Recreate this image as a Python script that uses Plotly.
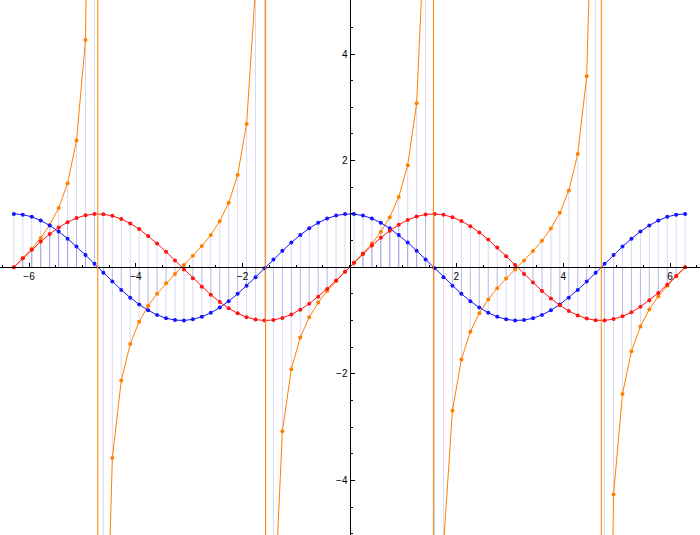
import plotly.graph_objects as go

# sample positions (radians)
x_vals = [-6.2832, -6.1156, -5.9481, -5.7805, -5.6130, -5.4454, -5.2779, -5.1103, -4.9428, -4.7752,
          -4.6077, -4.4401, -4.2726, -4.1050, -3.9375, -3.7699, -3.6024, -3.4348, -3.2673, -3.0997,
          -2.9322, -2.7646, -2.5970, -2.4295, -2.2619, -2.0944, -1.9268, -1.7593, -1.5917, -1.4242,
          -1.2566, -1.0891, -0.9215, -0.7540, -0.5864, -0.4189, -0.2513, -0.0838,
          0.0838, 0.2513, 0.4189, 0.5864, 0.7540, 0.9215, 1.0891, 1.2566, 1.4242, 1.5917,
          1.7593, 1.9268, 2.0944, 2.2619, 2.4295, 2.5970, 2.7646, 2.9322, 3.0997, 3.2673,
          3.4348, 3.6024, 3.7699, 3.9375, 4.1050, 4.2726, 4.4401, 4.6077, 4.7752, 4.9428,
          5.1103, 5.2779, 5.4454, 5.6130, 5.7805, 5.9481, 6.1156, 6.2832]

sin_vals = [0.0, 0.1668, 0.3289, 0.4818, 0.6211, 0.7431, 0.8443, 0.9219, 0.9736, 0.9980,
            0.9945, 0.9632, 0.9048, 0.8211, 0.7145, 0.5878, 0.4446, 0.2890, 0.1253, -0.0419,
            -0.2079, -0.3681, -0.5180, -0.6534, -0.7705, -0.8660, -0.9373, -0.9823, -0.9998, -0.9893,
            -0.9511, -0.8862, -0.7965, -0.6845, -0.5534, -0.4067, -0.2487, -0.0837,
            0.0837, 0.2487, 0.4067, 0.5534, 0.6845, 0.7965, 0.8862, 0.9511, 0.9893, 0.9998,
            0.9823, 0.9373, 0.8660, 0.7705, 0.6534, 0.5180, 0.3681, 0.2079, 0.0419, -0.1253,
            -0.2890, -0.4446, -0.5878, -0.7145, -0.8211, -0.9048, -0.9632, -0.9945, -0.9980, -0.9736,
            -0.9219, -0.8443, -0.7431, -0.6211, -0.4818, -0.3289, -0.1668, 0.0]

cos_vals = [1.0, 0.9860, 0.9444, 0.8763, 0.7837, 0.6691, 0.5358, 0.3875, 0.2284, 0.0628,
            -0.1045, -0.2689, -0.4258, -0.5707, -0.6997, -0.8090, -0.8957, -0.9573, -0.9921, -0.9991,
            -0.9781, -0.9298, -0.8554, -0.7570, -0.6374, -0.5000, -0.3486, -0.1874, -0.0209, 0.1461,
            0.3090, 0.4633, 0.6046, 0.7290, 0.8329, 0.9135, 0.9686, 0.9965,
            0.9965, 0.9686, 0.9135, 0.8329, 0.7290, 0.6046, 0.4633, 0.3090, 0.1461, -0.0209,
            -0.1874, -0.3486, -0.5000, -0.6374, -0.7570, -0.8554, -0.9298, -0.9781, -0.9991, -0.9921,
            -0.9573, -0.8957, -0.8090, -0.6997, -0.5707, -0.4258, -0.2689, -0.1045, 0.0628, 0.2284,
            0.3875, 0.5358, 0.6691, 0.7837, 0.8763, 0.9444, 0.9860, 1.0]

tan_vals = [0.0, 0.1691, 0.3482, 0.5498, 0.7926, 1.1106, 1.5757, 2.3789, 4.2635, 15.895,
            -9.5144, -3.5816, -2.1251, -1.4388, -1.0212, -0.7265, -0.4964, -0.3019, -0.1263, 0.0419,
            0.2126, 0.3959, 0.6056, 0.8632, 1.2088, 1.7321, 2.6889, 5.2422, 47.74, -6.7720,
            -3.0777, -1.9128, -1.3175, -0.9391, -0.6644, -0.4452, -0.2568, -0.0840,
            0.0840, 0.2568, 0.4452, 0.6644, 0.9391, 1.3175, 1.9128, 3.0777, 6.7720, -47.74,
            -5.2422, -2.6889, -1.7321, -1.2088, -0.8632, -0.6056, -0.3959, -0.2126, -0.0419, 0.1263,
            0.3019, 0.4964, 0.7265, 1.0212, 1.4388, 2.1251, 3.5816, 9.5144, -15.895, -4.2635,
            -2.3789, -1.5757, -1.1106, -0.7926, -0.5498, -0.3482, -0.1691, 0.0]

asymptotes = [-4.7124, -1.5708, 1.5708, 4.7124]
x_ticks = [-6, -4, -2, 2, 4, 6]
y_ticks = [-4, -2, 2, 4]

X_RANGE = [-6.543, 6.561]
Y_RANGE = [-5.024, 5.013]

BLUE = "rgb(20,20,255)"
RED = "rgb(255,20,20)"
ORANGE = "rgb(255,128,0)"
STEM = "rgba(60,60,190,0.2)"


def stems(xs, ys):
    sx, sy = [], []
    for x, y in zip(xs, ys):
        sx += [x, x, None]
        sy += [0, y, None]
    return sx, sy


def split_at(xs, ys, breaks):
    ox, oy = [], []
    for i in range(len(xs)):
        if i > 0 and any(xs[i - 1] < b < xs[i] for b in breaks):
            ox.append(None)
            oy.append(None)
        ox.append(xs[i])
        oy.append(ys[i])
    return ox, oy


fig = go.Figure()

for vals in (cos_vals, sin_vals, tan_vals):
    sx, sy = stems(x_vals, vals)
    fig.add_trace(go.Scatter(x=sx, y=sy, mode="lines",
                             line=dict(color=STEM, width=1),
                             hoverinfo="skip", showlegend=False))

tx, ty = split_at(x_vals, tan_vals, asymptotes)
for xs, ys, col in ((tx, ty, ORANGE), (x_vals, cos_vals, BLUE), (x_vals, sin_vals, RED)):
    fig.add_trace(go.Scatter(x=xs, y=ys, mode="lines+markers",
                             line=dict(color=col, width=1),
                             marker=dict(color=col, size=4),
                             connectgaps=False, showlegend=False))

for a in asymptotes:
    fig.add_shape(type="line", x0=a, x1=a, xref="x", y0=0, y1=1, yref="paper",
                  line=dict(color=ORANGE, width=1))

xpos = (0 - Y_RANGE[0]) / (Y_RANGE[1] - Y_RANGE[0])
ypos = (0 - X_RANGE[0]) / (X_RANGE[1] - X_RANGE[0])

axis_common = dict(showgrid=False, zeroline=False, showline=True, linecolor="black",
                   linewidth=1, ticks="inside", ticklen=4, tickwidth=1, tickcolor="black",
                   automargin=False,
                   tickfont=dict(family="Liberation Sans", size=10, color="black"),
                   minor=dict(tickmode="linear", tick0=0, dtick=0.5, ticks="inside",
                              ticklen=2, tickwidth=1, tickcolor="black"))

fig.update_layout(
    width=700, height=535,
    margin=dict(l=0, r=0, t=0, b=0, pad=0),
    paper_bgcolor="white", plot_bgcolor="white",
    showlegend=False,
    xaxis=dict(range=X_RANGE, anchor="free", position=xpos, side="bottom",
               tickmode="array", tickvals=x_ticks, **axis_common),
    yaxis=dict(range=Y_RANGE, anchor="free", position=ypos, side="left",
               tickmode="array", tickvals=y_ticks, **axis_common),
)

fig.write_html("out.html", config={"displayModeBar": False},
               post_script="document.body.style.margin='0';document.body.style.overflow='hidden';")
